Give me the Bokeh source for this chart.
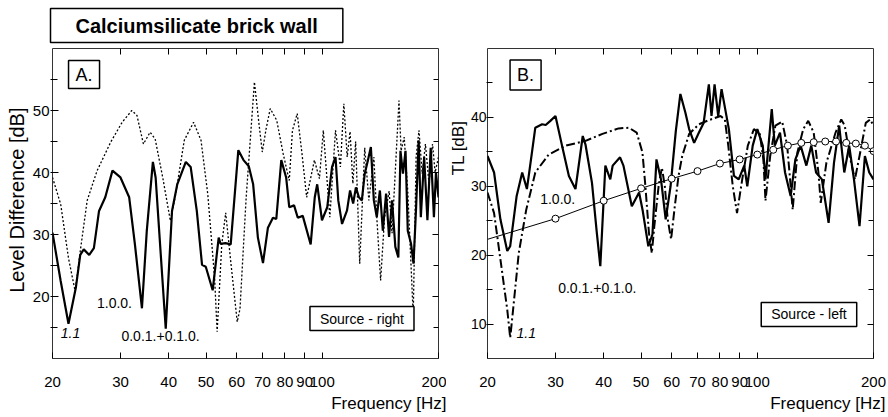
import math
from bokeh.plotting import figure
from bokeh.models import FixedTicker, LinearAxis, LogAxis, Label, BasicTickFormatter, Range1d, Title
from bokeh.layouts import row
from bokeh.embed import file_html
from bokeh.resources import INLINE

# ---------------- data ----------------
# Panel A: level difference, source right
a_solid_f = [20.0, 21.0, 22.0, 23.0, 23.6, 24.1, 24.9, 25.6, 26.4, 27.4, 28.6, 30.0, 31.6, 32.7, 34.1,
             35.1, 36.4, 37.0, 38.1, 39.3, 40.8, 42.1, 44.3, 45.6, 47.3, 48.8, 49.9, 52.0, 53.9, 54.5,
             56.1, 57.9, 60.6, 62.5, 64.5, 66.2, 68.1, 70.2, 72.3, 74.5, 76.0, 78.3, 80.6, 82.1, 84.5,
             86.4, 89.0, 93.3, 95.6, 97.0, 99.8, 103, 106, 108.2, 110, 112.5, 115.9, 118, 120.2, 122.2,
             124.4, 126.6, 128.8, 131.2, 133.6, 136, 138.4, 141, 143.5, 146.3, 148.9, 151.6, 154.6,
             157.4, 159.4, 161.8, 164.3, 166.5, 169.8, 172.3, 175, 177.7, 180, 183.6, 187.2, 190.9,
             194.6, 197, 200]
a_solid_db = [30.3, 22.5, 15.6, 21.5, 26.7, 27.6, 26.7, 27.8, 33.8, 36.0, 40.3, 39.2, 36.0, 28.4, 18.1,
              30.6, 41.7, 39.2, 27.3, 14.8, 33.8, 38.1, 41.7, 40.9, 33.8, 25.1, 24.8, 21.0, 29.5, 28.5,
              28.6, 28.4, 43.6, 42.0, 41.0, 38.1, 29.5, 25.4, 31.1, 32.7, 32.5, 42.0, 39.2, 34.4, 34.7,
              32.7, 33.0, 28.4, 36.0, 38.1, 32.3, 34.4, 40.9, 42.5, 35.5, 31.7, 33.9, 37.1, 35.0, 37.6,
              36.0, 35.5, 39.8, 41.9, 44.1, 35.5, 32.8, 37.1, 30.6, 36.6, 29.6, 35.5, 28.0,
              26.3, 43.5, 39.8, 43.5, 30.6, 28.5, 25.3, 34.4, 45.2, 32.8, 42.5, 32.3, 44.0,
              32.8, 40.0, 36.0]

a_dot_f = [20, 21.0, 22.0, 22.9, 23.6, 24.6, 26.1, 28.3, 30.3, 32.1, 33.1, 34.4, 35.8, 36.9, 38.6,
           40.4, 41.7, 43.9, 46.4, 48.5, 50.5, 52.6, 53.4, 54.9, 56.2, 57.9, 60.2, 61.2, 63.5, 66.7,
           68.5, 69.9, 71.5, 73.3, 76.2, 79.2, 82.1, 83.7, 86.1, 88.6, 91.1, 95.4, 98.3, 100.6, 104.6,
           108.2, 111.4, 113.7, 116, 118, 120, 122, 125, 128.8, 132, 136, 138.4, 141.6, 145, 149,
           151.6, 158, 160, 163, 166.5, 172, 175, 178, 181.5, 185, 189, 193, 196, 200]
a_dot_db = [39.2, 34.9, 26.2, 20.8, 27.3, 35.5, 40.3, 44.9, 48.1, 50.0, 49.2, 44.6, 46.5, 45.4, 39.2,
            32.2, 36.5, 45.2, 48.1, 45.2, 36.5, 23.0, 14.3, 28.4, 33.5, 25.7, 15.9, 18.0, 36.0, 54.6,
            48.0, 43.3, 47.0, 50.3, 48.4, 43.0, 38.7, 46.8, 49.5, 43.0, 36.0, 42.0, 39.0, 46.8, 32.8,
            46.8, 40.9, 51.1, 42.5, 46.6, 38.2, 45.0, 25.3, 44.0, 35.5, 42.5, 32.8, 22.6, 32.8, 37.0,
            30.2, 51.6, 43.5, 45.7, 37.0, 17.0, 42.5, 46.8, 39.8, 44.6, 38.2, 44.6, 40.0, 42.5]

# Panel B: transmission loss, source left
b_solid_f = [20, 20.8, 21.6, 22.5, 22.9, 23.8, 24.6, 25.3, 26.0, 26.6, 27.7, 28.3, 29.1, 30.0, 31.2,
             32.5, 33.8, 35.3, 35.9, 37.3, 38.4, 39.2, 40.4, 41.6, 42.2, 44.1, 45.0, 47.3, 49.4, 50.5,
             52.2, 53.5, 54.8, 56.3, 57.9, 59.6, 61.5, 63.2, 65.1, 66.6, 68.6, 70.6, 72.6, 74.9, 76.1,
             77.5, 79.2, 80.8, 84.4, 87.0, 89.5, 92.5, 94.2, 97.3, 100, 103.3, 105, 109, 111, 114.5,
             118, 122, 125.5, 129.5, 134, 138, 142, 147, 153, 158, 163, 168, 173, 178, 184, 190, 195, 200]
b_solid_db = [34.4, 32.0, 25.2, 20.6, 21.3, 28.6, 32.0, 29.6, 34.4, 38.5, 39.0, 38.9, 39.5, 40.2, 35.9,
              31.5, 29.6, 37.3, 36.0, 30.5, 23.2, 18.4, 33.0, 31.0, 33.0, 34.2, 33.0, 27.1, 29.1, 26.4,
              21.3, 23.0, 33.9, 31.0, 25.2, 30.0, 38.0, 43.4, 40.7, 38.3, 36.3, 37.8, 39.2, 44.8, 40.2,
              44.8, 40.2, 44.1, 38.3, 31.5, 31.0, 33.0, 30.0, 35.9, 38.3, 35.9, 31.0, 41.2, 35.9, 37.8,
              32.0, 28.6, 33.9, 35.9, 33.0, 35.9, 32.0, 31.0, 24.7, 33.4, 38.8, 32.0, 35.9, 31.0, 24.2, 34.4, 32.0, 31.0]

b_dash_f = [20, 20.8, 21.6, 22.5, 22.9, 23.3, 24.1, 25.2, 26.6, 28.8, 31.9, 35.9, 39.7, 43.7, 46.5,
            48.7, 50.4, 51.3, 52.4, 53.3, 54.1, 55.5, 56.6, 57.6, 58.6, 59.8, 61.1, 62.5, 63.9, 66.6,
            70.6, 74.9, 80.3, 82.4, 84.1, 86.4, 88.6, 91.4, 94.5, 98, 101.5, 103.7, 105, 108, 111.4,
            116, 119.5, 123.5, 127, 131.5, 135.5, 140, 144, 146, 151, 159.5, 165, 168.5, 173.5, 179,
            184, 191, 196, 200]
b_dash_db = [29.1, 26.1, 19.4, 12.1, 8.0, 12.1, 20.3, 26.6, 32.0, 34.6, 35.9, 36.6, 37.6, 38.4, 38.5,
             37.8, 34.9, 30.0, 23.2, 20.3, 24.2, 30.0, 32.7, 30.0, 25.2, 22.3, 27.0, 31.5, 34.4, 37.6,
             39.0, 39.6, 40.2, 39.7, 35.9, 30.0, 26.1, 31.0, 35.9, 38.3, 37.6, 33.9, 27.9, 34.4, 38.8,
             39.4, 35.9, 26.6, 34.9, 38.3, 39.5, 37.8, 32.0, 27.6, 33.4, 37.8, 39.7, 38.8, 34.4, 31.0,
             34.4, 39.2, 39.7, 38.8]

mass_f = [20, 30, 40, 50, 60, 70, 80, 90, 100, 110, 120, 130, 140, 150, 160, 170, 180, 190, 200]
mass_db = [22.3, 25.3, 27.9, 29.7, 31.1, 32.2, 33.3, 33.9, 34.6, 35.3, 35.9, 36.3, 36.4, 36.5, 36.5,
           36.3, 36.2, 35.9, 35.1]

x_ticks = [20, 30, 40, 50, 60, 70, 80, 90, 100, 200]
a_yticks = [20, 30, 40, 50]
a_yminor = [15, 25, 35, 45, 55]
b_yticks = [10, 20, 30, 40]
b_yminor = [15, 25, 35, 45]

FONT = "Liberation Sans"


def make_fig(ymin, ymax, yticks, yminor, left, right, tick_size, tick_out, standoff):
    p = figure(x_axis_type="log", x_range=Range1d(20, 200), y_range=Range1d(ymin, ymax),
               frame_width=386, frame_height=310, min_border_left=left, min_border_right=right,
               min_border_top=48, min_border_bottom=59, toolbar_location=None,
               output_backend="svg", background_fill_color="white", border_fill_color="white")
    p.grid.visible = False
    p.outline_line_color = "#333333"
    p.outline_line_width = 1

    xa = p.xaxis[0]
    xa.ticker = FixedTicker(ticks=x_ticks)
    xa.formatter = BasicTickFormatter()
    xa.major_tick_in = 6
    xa.major_tick_out = 0
    xa.minor_tick_in = 0
    xa.minor_tick_out = 0
    xa.major_label_standoff = 18
    xa.major_label_text_font = FONT
    xa.major_label_text_font_size = "15px"
    xa.major_label_text_color = "black"
    xa.axis_line_color = None

    top = LogAxis(ticker=FixedTicker(ticks=x_ticks[1:9]), major_label_text_color=None,
                  major_tick_in=6, major_tick_out=0, minor_tick_in=0, minor_tick_out=0,
                  major_label_standoff=0, axis_line_color=None)
    p.add_layout(top, "above")

    ya = p.yaxis[0]
    ya.ticker = FixedTicker(ticks=yticks, minor_ticks=yminor)
    ya.major_tick_in = 6
    ya.major_tick_out = tick_out
    ya.minor_tick_in = 5
    ya.minor_tick_out = tick_out
    ya.major_label_standoff = standoff
    ya.major_label_text_font = FONT
    ya.major_label_text_font_size = tick_size
    ya.major_label_text_color = "black"
    ya.axis_line_color = None

    ra = LinearAxis(ticker=FixedTicker(ticks=yticks, minor_ticks=yminor), major_label_text_color=None,
                    major_tick_in=6, major_tick_out=0, minor_tick_in=5, minor_tick_out=0,
                    major_label_standoff=0, axis_line_color=None)
    p.add_layout(ra, "right")
    return p


def lab(p, x, y, text, size, style="normal", align="center", box=None):
    kw = dict(x=x, y=y, text=text, text_font=FONT, text_font_size=f"{size}px", text_font_style=style,
              text_align=align, text_baseline="middle", text_color="black")
    if box is not None:
        kw.update(border_line_color="black", border_line_width=box[2], background_fill_color="white",
                  padding=dict(left=box[0], right=box[0], top=box[1], bottom=box[1]))
    p.add_layout(Label(**kw))


def side_title(p, text, place, size, align="center", offset=0, standoff=0, style="normal"):
    t = Title(text=text, align=align, offset=offset, standoff=standoff, text_font=FONT,
              text_font_size=f"{size}px", text_font_style=style, text_color="black")
    p.add_layout(t, place)
    return t


# ---------------- panel A ----------------
pa = make_fig(10, 60, a_yticks, a_yminor, 52, 8, "15px", 2, 1)
pa.title = Title(text="Calciumsilicate brick wall", align="left", offset=-2, standoff=12,
                 text_font=FONT, text_font_size="20px", text_font_style="bold", text_color="black",
                 border_line_color="black", border_line_width=1.5, background_fill_color="white",
                 padding=dict(left=25, right=25, top=6, bottom=6))
pa.line(a_dot_f, a_dot_db, line_color="black", line_width=1.3, line_dash="2 2")
pa.line(a_solid_f, a_solid_db, line_color="black", line_width=2.2)

lab(pa, 24.14, 55.8, "A.", 18, box=(7, 4, 1.5))
lab(pa, 126.7, 16.45, "Source - right", 14, box=(10, 4, 1.5))
lab(pa, 22.27, 14.19, "1.1", 14, style="italic")
lab(pa, 28.95, 19.03, "1.0.0.", 14)
lab(pa, 38.1, 13.55, "0.0.1.+0.1.0.", 14)
side_title(pa, "Frequency [Hz]", "below", 17, align="right", offset=-8, standoff=5)
side_title(pa, "Level Difference [dB]", "left", 20, align="right", offset=59, standoff=4)

# ---------------- panel B ----------------
pb = make_fig(5, 50, b_yticks, b_yminor, 41, 15, "14px", 1, 0)
pb.line(b_dash_f, b_dash_db, line_color="black", line_width=2.0, line_dash="9 3 2 3")
pb.line(b_solid_f, b_solid_db, line_color="black", line_width=2.2)
pb.line(mass_f, mass_db, line_color="black", line_width=1.0)
pb.scatter(mass_f[1:], mass_db[1:], size=7, marker="circle", fill_color="white", line_color="black",
           line_width=1)

lab(pb, 25.1, 46.15, "B.", 18, box=(7, 5, 1.5))
lab(pb, 136.1, 11.39, "Source - left", 14, box=(10, 4, 1.5))
lab(pb, 30.4, 28.2, "1.0.0.", 14)
lab(pb, 38.5, 15.3, "0.0.1.+0.1.0.", 14)
lab(pb, 25.2, 8.63, "1.1", 14, style="italic")
side_title(pb, "Frequency [Hz]", "below", 17, align="right", offset=-12, standoff=5)
side_title(pb, "TL [dB]", "left", 17, align="right", offset=72, standoff=0)

layout = row(pa, pb)
open("out.html", "w").write(file_html(layout, INLINE))
